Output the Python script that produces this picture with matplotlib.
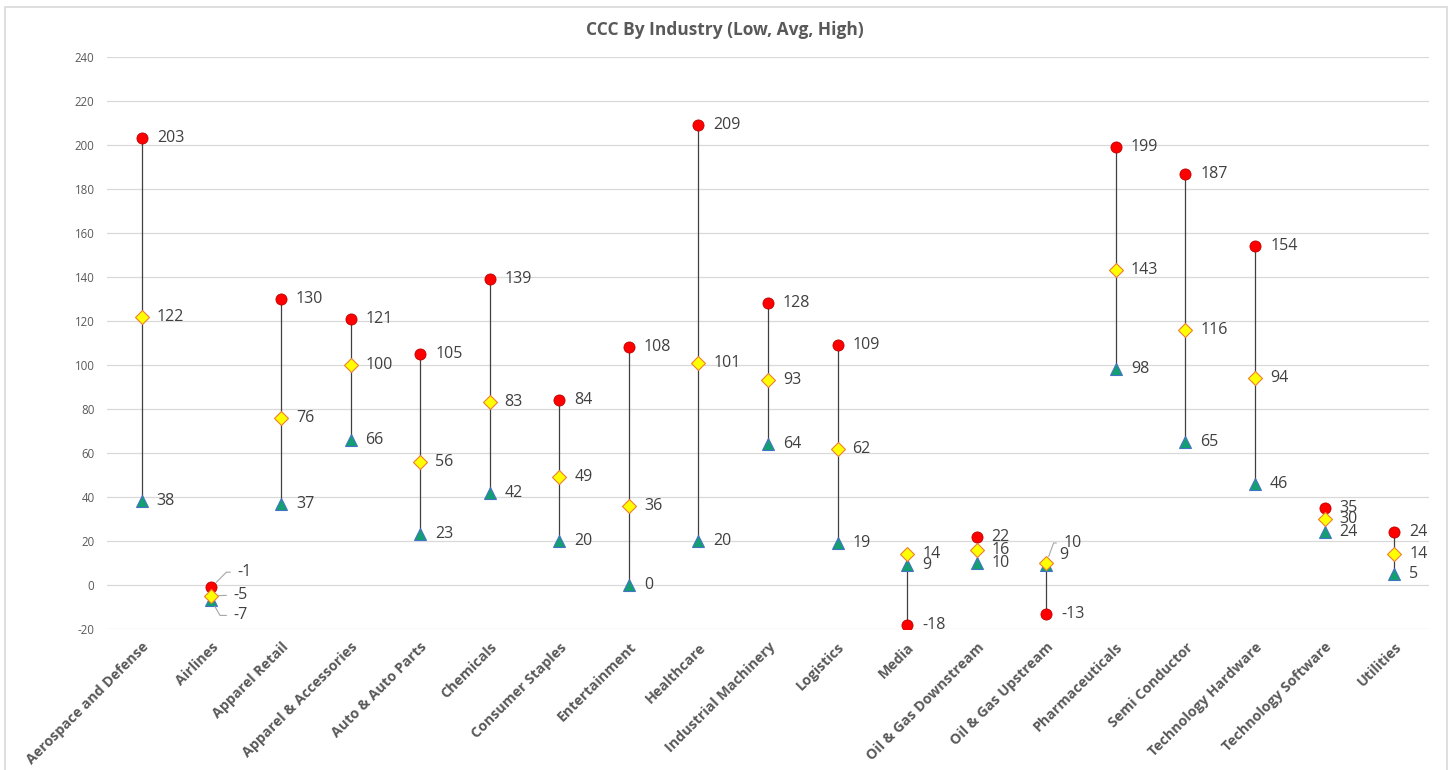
import matplotlib.pyplot as plt
from matplotlib.patches import Rectangle
import numpy as np

plt.rcParams['font.family'] = ['Open Sans', 'DejaVu Sans']

industries = ["Aerospace and Defense", "Airlines", "Apparel Retail", "Apparel & Accessories",
              "Auto & Auto Parts", "Chemicals", "Consumer Staples", "Entertainment", "Healthcare",
              "Industrial Machinery", "Logistics", "Media", "Oil & Gas Downstream",
              "Oil & Gas Upstream", "Pharmaceuticals", "Semi Conductor", "Technology Hardware",
              "Technology Software", "Utilities"]
high = [203, -1, 130, 121, 105, 139, 84, 108, 209, 128, 109, -18, 22, -13, 199, 187, 154, 35, 24]
avg = [122, -5, 76, 100, 56, 83, 49, 36, 101, 93, 62, 14, 16, 10, 143, 116, 94, 30, 14]
low = [38, -7, 37, 66, 23, 42, 20, 0, 20, 64, 19, 9, 10, 9, 98, 65, 46, 24, 5]
y_ticks = list(range(-20, 241, 20))

# hand-placed labels where points crowd together: (series, index) -> pixel offset, leader angle
nudges = {
    ('high', 1): ((26, 15), 45),
    ('avg', 1): ((22, 1), 0),
    ('low', 1): ((22, -15), -60),
    ('avg', 13): ((17, 20), 70),
    ('low', 13): ((13, 10), None),
}

fig = plt.figure(figsize=(14.54, 7.70), dpi=100)
fig.patches.append(Rectangle((5 / 1454, -0.1), 1442 / 1454, 1.1 - 7 / 770,
                             transform=fig.transFigure, fill=False,
                             edgecolor='#d9d9d9', lw=1.2))
ax = fig.add_axes([107 / 1454, 1 - 629 / 770, 1322 / 1454, 572 / 770])

x = np.arange(len(industries))
hi = np.array(high)
av = np.array(avg)
lo = np.array(low)
top = np.maximum(np.maximum(hi, av), lo)
bot = np.minimum(np.minimum(hi, av), lo)

ax.vlines(x, bot, top, color='#404040', lw=0.9, zorder=2)
ax.plot(x, hi, 'o', ms=8, mfc='#ff0000', mec='#c00000', mew=0.6, ls='none', zorder=3)
ax.plot(x, lo, '^', ms=9, mfc='#12a070', mec='#4472c4', mew=0.8, ls='none', zorder=3)
ax.plot(x, av, 'D', ms=6.8, mfc='#ffff00', mec='#ed7d31', mew=0.8, ls='none', zorder=4)

for name, series in (('high', high), ('avg', avg), ('low', low)):
    for i, v in enumerate(series):
        off, ang = nudges.get((name, i), ((15, 0), None))
        kw = {}
        if ang is not None:
            cs = 'angle,angleA=0,angleB=%d,rad=0' % ang if ang else 'arc3'
            kw['arrowprops'] = dict(arrowstyle='-', color='#a6a6a6', lw=0.8,
                                    connectionstyle=cs, relpos=(0, 0.5),
                                    shrinkA=3, shrinkB=5)
        ax.annotate(str(v), (i, v), xytext=off, textcoords='offset pixels',
                    ha='left', va='center', fontsize=11.5, color='#404040', zorder=5, **kw)

ax.set_xlim(-0.5, len(industries) - 0.5)
ax.set_ylim(-20, 240)
ax.set_yticks(y_ticks)
ax.set_yticklabels([str(t) for t in y_ticks], fontsize=8.3, color='#595959')
ax.set_xticks(x)
ax.set_xticklabels(industries, rotation=45, ha='right', va='top', rotation_mode='anchor',
                   fontsize=10.3, fontweight='bold', color='#595959')
ax.tick_params(axis='y', length=0, pad=9)
ax.tick_params(axis='x', length=0, pad=8)
ax.grid(axis='y', color='#d9d9d9', lw=0.9)
ax.set_axisbelow(True)
for s in ax.spines.values():
    s.set_visible(False)

fig.text(725 / 1454, 1 - 30 / 770, 'CCC By Industry (Low, Avg, High)', ha='center', va='center',
         fontsize=12.5, fontweight='bold', color='#595959')

fig.savefig('out.png', dpi=100)
